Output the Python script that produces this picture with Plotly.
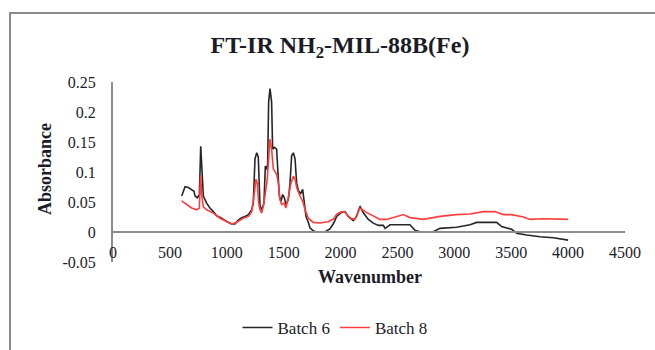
import plotly.graph_objects as go

# FT-IR spectra of NH2-MIL-88B(Fe), two synthesis batches
wavenumber_b6 = [604, 633, 662, 691, 712, 721, 741, 759, 765, 771, 776, 782, 794, 823, 852, 882, 911, 955,
                 999, 1043, 1072, 1101, 1131, 1160, 1190, 1219, 1233, 1248, 1263, 1277, 1283, 1292, 1307,
                 1327, 1339, 1350, 1359, 1368, 1380, 1394, 1403, 1418, 1438, 1447, 1462, 1477, 1491, 1506,
                 1520, 1541, 1556, 1570, 1585, 1600, 1614, 1629, 1650, 1667, 1679, 1696, 1717, 1731, 1760,
                 1790, 1819, 1860, 1907, 1940, 1966, 2010, 2039, 2068, 2112, 2141, 2171, 2200, 2244, 2288,
                 2332, 2376, 2391, 2435, 2610, 2654, 2698, 2815, 2874, 3020, 3138, 3196, 3372, 3416, 3504,
                 3548, 3636, 3753, 3870, 4000]
absorbance_b6 = [0.060, 0.0755, 0.074, 0.071, 0.068, 0.060, 0.057, 0.062, 0.100, 0.143, 0.125, 0.105, 0.060,
                 0.048, 0.040, 0.034, 0.027, 0.023, 0.0175, 0.0135, 0.0135, 0.020, 0.024, 0.026, 0.029,
                 0.037, 0.048, 0.122, 0.132, 0.125, 0.088, 0.043, 0.037, 0.048, 0.110, 0.104, 0.113, 0.217,
                 0.239, 0.217, 0.138, 0.141, 0.138, 0.105, 0.060, 0.051, 0.0625, 0.057, 0.046, 0.054, 0.082,
                 0.127, 0.132, 0.122, 0.082, 0.069, 0.064, 0.071, 0.051, 0.026, 0.016, 0.007, 0.002, 0.000,
                 -0.0005, 0.000, 0.005, 0.015, 0.026, 0.033, 0.034, 0.026, 0.019, 0.026, 0.043, 0.032, 0.021,
                 0.0147, 0.011, 0.011, 0.006, 0.012, 0.012, 0.003, 0.0005, 0.0005, 0.006, 0.008, 0.012,
                 0.016, 0.016, 0.009, 0.0045, -0.002, -0.005, -0.008, -0.0095, -0.0135]

wavenumber_b8 = [604, 648, 691, 735, 759, 765, 771, 779, 794, 823, 882, 940, 999, 1043, 1087, 1145, 1190,
                 1219, 1239, 1257, 1268, 1280, 1292, 1307, 1327, 1345, 1356, 1368, 1380, 1394, 1409, 1423,
                 1438, 1453, 1467, 1482, 1503, 1520, 1541, 1561, 1585, 1600, 1614, 1643, 1667, 1688, 1717,
                 1760, 1819, 1892, 1940, 1966, 2010, 2039, 2083, 2127, 2171, 2215, 2288, 2347, 2406, 2493,
                 2552, 2610, 2727, 2815, 2874, 3020, 3138, 3255, 3357, 3431, 3504, 3607, 3665, 3782, 3900,
                 4000]
absorbance_b8 = [0.052, 0.046, 0.040, 0.037, 0.040, 0.070, 0.095, 0.062, 0.042, 0.037, 0.0315, 0.023,
                 0.0175, 0.0135, 0.016, 0.023, 0.026, 0.034, 0.060, 0.088, 0.082, 0.048, 0.037, 0.0315,
                 0.048, 0.079, 0.088, 0.122, 0.155, 0.138, 0.105, 0.101, 0.096, 0.082, 0.054, 0.046, 0.048,
                 0.040, 0.057, 0.079, 0.093, 0.088, 0.074, 0.060, 0.051, 0.037, 0.023, 0.016, 0.015, 0.017,
                 0.022, 0.030, 0.034, 0.033, 0.023, 0.021, 0.040, 0.034, 0.027, 0.021, 0.021, 0.026, 0.029,
                 0.024, 0.021, 0.024, 0.026, 0.029, 0.030, 0.034, 0.034, 0.029, 0.029, 0.025, 0.021, 0.022,
                 0.021, 0.021]

x_ticks = [0, 500, 1000, 1500, 2000, 2500, 3000, 3500, 4000, 4500]
y_ticks = [-0.05, 0, 0.05, 0.1, 0.15, 0.2, 0.25]
y_tick_text = ["-0.05", "0", "0.05", "0.1", "0.15", "0.2", "0.25"]

SERIF = "Liberation Serif"
TEXT = "#1c1c28"
AXIS = "#8c8c8c"

fig = go.Figure()
fig.add_trace(go.Scatter(x=wavenumber_b6, y=absorbance_b6, mode="lines", name="Batch 6",
                         line=dict(color="#262626", width=1.6)))
fig.add_trace(go.Scatter(x=wavenumber_b8, y=absorbance_b8, mode="lines", name="Batch 8",
                         line=dict(color="#ff3d3d", width=1.6)))

W, H = 655, 350
ML, MR, MT, MB = 113, 30, 82, 88
pw, ph = W - ML - MR, H - MT - MB

fig.update_layout(
    width=W, height=H,
    margin=dict(l=ML, r=MR, t=MT, b=MB, autoexpand=False),
    paper_bgcolor="white", plot_bgcolor="white",
    font=dict(family=SERIF, size=16, color=TEXT),
    title=dict(text="FT-IR NH<sub>2</sub>-MIL-88B(Fe)", x=340 / W, xanchor="center",
               y=1 - 45 / H, yanchor="middle",
               font=dict(family=SERIF, size=24, color=TEXT, weight="bold")),
    xaxis=dict(range=[0, 4500], tickvals=x_ticks, showgrid=False, zeroline=False,
               showline=True, linecolor=AXIS, linewidth=2, ticks="",
               anchor="free", position=0.05 / 0.30, ticklabelstandoff=6,
               tickfont=dict(family=SERIF, size=16, color=TEXT)),
    yaxis=dict(range=[-0.05, 0.25], tickvals=y_ticks, ticktext=y_tick_text, showgrid=False,
               zeroline=False, showline=True, linecolor=AXIS, linewidth=2, ticks="",
               ticklabelstandoff=12, tickfont=dict(family=SERIF, size=16, color=TEXT)),
    showlegend=True,
    legend=dict(orientation="h", x=(335 - ML) / pw, xanchor="center",
                y=(H - MB - 328) / ph, yanchor="middle",
                font=dict(family=SERIF, size=17, color=TEXT), bgcolor="rgba(0,0,0,0)"),
)

# axis titles
fig.add_annotation(text="<b>Wavenumber</b>", xref="paper", yref="paper",
                   x=(370 - ML) / pw, y=(H - MB - 277) / ph, xanchor="center", yanchor="middle",
                   showarrow=False, font=dict(family=SERIF, size=18, color=TEXT))
fig.add_annotation(text="<b>Absorbance</b>", xref="paper", yref="paper",
                   x=(45 - ML) / pw, y=(H - MB - 169) / ph, xanchor="center", yanchor="middle",
                   showarrow=False, textangle=-90, font=dict(family=SERIF, size=18, color=TEXT))

# chart border
fig.add_shape(type="rect", xref="paper", yref="paper",
              x0=(10 - ML) / pw, x1=(W + 10 - ML) / pw,
              y0=(H - MB - (H + 10)) / ph, y1=(H - MB - 13) / ph,
              line=dict(color="#8a8a8a", width=2), fillcolor="rgba(0,0,0,0)", layer="below")

fig.write_html("out.html")
